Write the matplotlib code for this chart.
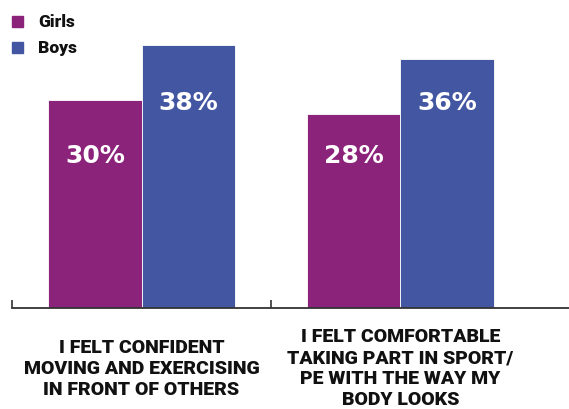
import matplotlib.pyplot as plt
import numpy as np

# Survey results (percent agreeing)
categories = [
    "I FELT CONFIDENT\nMOVING AND EXERCISING\nIN FRONT OF OTHERS",
    "I FELT COMFORTABLE\nTAKING PART IN SPORT/\nPE WITH THE WAY MY\nBODY LOOKS",
]
girls = [30, 28]
boys = [38, 36]

girls_color = "#8C237B"
boys_color = "#4356A2"
font = "Roboto"

fig = plt.figure(figsize=(5.69, 4.10), dpi=100)
ax = fig.add_axes([12 / 569, 101 / 410, 557 / 569, 276.8 / 410])

x = np.arange(len(categories))
width = 0.36
b1 = ax.bar(x - width / 2, girls, width, color=girls_color, edgecolor="white", linewidth=0.6)
b2 = ax.bar(x + width / 2, boys, width, color=boys_color, edgecolor="white", linewidth=0.6)

ax.set_ylim(0, 40)
ax.set_xlim(-0.5, -0.5 + 557 / 259)

# Value labels inside the bars, each series on a common baseline height
for bars, vals, label_y in [(b1, girls, 22.1), (b2, boys, 29.8)]:
    for rect, v in zip(bars, vals):
        ax.text(rect.get_x() + rect.get_width() / 2, label_y, f"{v}%",
                ha="center", va="center", color="white",
                fontsize=18, fontweight="bold", family="DejaVu Sans")

# Category labels under the axis
for xi, label in zip(x, categories):
    ax.annotate(label, (xi, 0), xycoords=("data", "axes fraction"),
                xytext=(0, -43), textcoords="offset points",
                ha="center", va="center", fontsize=14, fontweight="heavy",
                family=font, linespacing=1.22, color="#111111")

# Axis styling: bottom line with separator ticks only
for side in ["left", "right", "top"]:
    ax.spines[side].set_visible(False)
ax.spines["bottom"].set_color("#333333")
ax.spines["bottom"].set_linewidth(1.3)
ax.set_yticks([])
ax.set_xticks([-0.5, 0.5])
ax.set_xticklabels([])
ax.tick_params(axis="x", direction="in", length=6, width=1.2, color="#333333")

# Legend
for yc, name, c in [(22, "Girls", girls_color), (48, "Boys", boys_color)]:
    yy = 1 - yc / 410
    fig.patches.append(plt.Rectangle((12 / 569, yy - 5.5 / 410), 11 / 569, 11 / 410,
                                     transform=fig.transFigure, color=c))
    fig.text(38 / 569, yy, name, ha="left", va="center", fontsize=12.5,
             fontweight="heavy", family=font, color="#111111")

fig.savefig("out.png", dpi=100)
